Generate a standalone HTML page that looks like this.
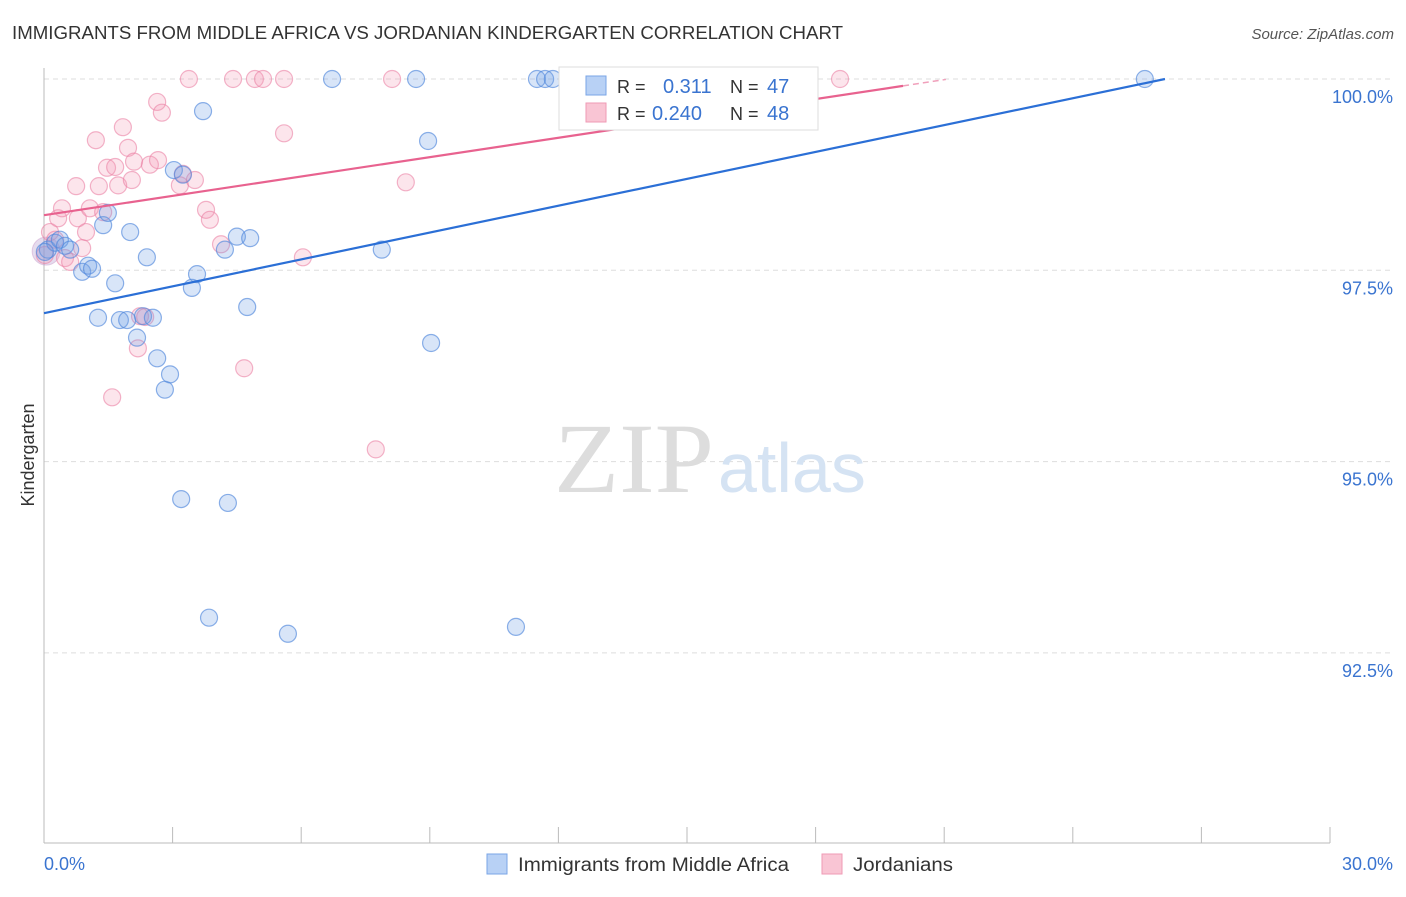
<!DOCTYPE html>
<html><head><meta charset="utf-8"><style>
body{margin:0;background:#fff;font-family:"Liberation Sans",sans-serif;}
svg text{font-family:"Liberation Sans",sans-serif;}
</style></head><body>
<svg id="chart" width="1406" height="892">
<text x="12" y="39" font-size="18" fill="#333" textLength="831" lengthAdjust="spacingAndGlyphs">IMMIGRANTS FROM MIDDLE AFRICA VS JORDANIAN KINDERGARTEN CORRELATION CHART</text>
<text x="1394" y="39" font-size="15" fill="#555" font-style="italic" text-anchor="end">Source: ZipAtlas.com</text>
<text x="34" y="455" font-size="18" fill="#333" transform="rotate(-90 34 455)" text-anchor="middle">Kindergarten</text>
<g id="grid"></g>
<line x1="44" y1="68" x2="44" y2="843" stroke="#bbb"/>
<line x1="44" y1="843" x2="1330" y2="843" stroke="#bbb"/>
<text x="554" y="492" font-size="100" fill="#ddd" style="font-family:'Liberation Serif',serif" textLength="160" lengthAdjust="spacingAndGlyphs">ZIP</text>
<text x="718" y="492" font-size="70" fill="#d5e3f3">atlas</text>
<g id="pts"></g>
<g id="lines"></g>
<g>
<rect x="559" y="67" width="259" height="63" fill="#fff" stroke="#ddd"/>
<rect x="586" y="76" width="20" height="19" fill="#b8d1f5" stroke="#7aa5e6"/>
<rect x="586" y="103" width="20" height="19" fill="#f9c5d4" stroke="#ef9ab5"/>
<text x="617" y="93" font-size="18" fill="#333">R = </text><text x="663" y="93" font-size="20" fill="#3a74d0">0.311</text>
<text x="730" y="93" font-size="18" fill="#333">N = </text><text x="767" y="93" font-size="20" fill="#3a74d0">47</text>
<text x="617" y="120" font-size="18" fill="#333">R = </text><text x="652" y="120" font-size="20" fill="#3a74d0">0.240</text>
<text x="730" y="120" font-size="18" fill="#333">N = </text><text x="767" y="120" font-size="20" fill="#3a74d0">48</text>
</g>
<rect x="487" y="854" width="20" height="20" fill="#b8d1f5" stroke="#7aa5e6"/>
<text x="518" y="871" font-size="19" fill="#333" textLength="271" lengthAdjust="spacingAndGlyphs">Immigrants from Middle Africa</text>
<rect x="822" y="854" width="20" height="20" fill="#f9c5d4" stroke="#ef9ab5"/>
<text x="853" y="871" font-size="19" fill="#333" textLength="100" lengthAdjust="spacingAndGlyphs">Jordanians</text>
</svg>
<script>
const yTicks=[100,97.5,95,92.5];
const yTickLabels=["100.0%","97.5%","95.0%","92.5%"];
const xTickLabels=["0.0%","30.0%"];
const blueX=[0.09,0.26,0.37,0.49,0.61,0.89,1.03,1.12,1.26,1.38,1.49,1.66,1.77,1.94,2.01,2.17,2.31,2.40,2.54,2.64,2.82,2.94,3.03,3.20,3.24,3.45,3.57,3.71,3.85,4.22,4.29,4.50,4.74,4.81,5.69,6.72,7.88,8.68,8.96,9.03,11.01,11.50,11.69,11.87,14.56,25.68,0.02];
const blueY=[97.77,97.86,97.90,97.82,97.77,97.48,97.56,97.52,96.88,98.09,98.25,97.33,96.85,96.85,98.00,96.62,96.90,97.67,96.88,96.35,95.94,96.14,98.81,94.51,98.75,97.27,97.45,99.58,92.96,97.77,94.46,97.94,97.02,97.92,92.75,100,97.77,100,99.19,96.55,92.84,100,100,100,100,100,97.74];
const pinkX=[0.02,0.14,0.26,0.33,0.42,0.49,0.61,0.75,0.79,0.89,0.98,1.07,1.21,1.28,1.38,1.47,1.59,1.66,1.73,1.84,1.96,2.05,2.10,2.19,2.24,2.36,2.47,2.64,2.66,2.75,3.17,3.24,3.38,3.52,3.78,3.87,4.13,4.41,4.67,4.92,5.11,5.60,5.60,6.04,7.74,8.12,8.44,18.57];
const pinkY=[97.70,98.00,97.90,98.18,98.31,97.66,97.61,98.60,98.18,97.79,98.00,98.31,99.20,98.60,98.26,98.84,95.84,98.85,98.61,99.37,99.10,98.68,98.92,96.48,96.90,96.89,98.88,99.70,98.94,99.56,98.61,98.76,100,98.68,98.29,98.16,97.84,100,96.22,100,100,100,99.29,97.67,95.16,100,98.65,100];
const blueTrend=[[0,96.94],[26.15,100]];
const pinkTrend=[[0,98.22],[20.04,99.91]];
const X=v=>44+v/30*1286, Y=v=>79+(100-v)/2.5*191.3;
const NS="http://www.w3.org/2000/svg";
function mk(tag,attrs,parent){const e=document.createElementNS(NS,tag);for(const k in attrs)e.setAttribute(k,attrs[k]);parent.appendChild(e);return e;}
const grid=document.getElementById('grid');
yTicks.forEach((t,i)=>{
 const l=mk('line',{x1:44,x2:1394,y1:Y(t),y2:Y(t),stroke:'#ddd','stroke-dasharray':'5,4'},grid);
 
 
 const tx=mk('text',{x:1393,y:Y(t)+24,'font-size':18,fill:'#3a74d0','text-anchor':'end'},grid);
 tx.textContent=yTickLabels[i];
 
 
});
for(let i=0;i<=10;i++){
 const l=mk('line',{x1:X(i*3),x2:X(i*3),y1:827,y2:843,stroke:'#bbb'},grid);
 
 
}
[[0,44,'start'],[1,1393,'end']].forEach(([i,x,a])=>{
 const tx=mk('text',{x:x,y:870,'font-size':18,fill:'#3a74d0','text-anchor':a},grid);
 tx.textContent=xTickLabels[i];
 
 
});
const pts=document.getElementById('pts');
const big=mk('circle',{cx:X(0.05),cy:Y(97.75),r:14,fill:'rgba(170,140,200,0.3)',stroke:'rgba(200,150,200,0.45)'},pts);


pinkX.forEach((x,i)=>{
 const c=mk('circle',{cx:X(x),cy:Y(pinkY[i]),r:8.5,fill:'rgba(245,150,180,0.25)',stroke:'rgba(235,130,165,0.6)','stroke-width':1.2},pts);
 
 
});
blueX.forEach((x,i)=>{
 const c=mk('circle',{cx:X(x),cy:Y(blueY[i]),r:8.5,fill:'rgba(110,160,230,0.27)',stroke:'rgba(80,135,220,0.65)','stroke-width':1.2},pts);
 
 
});
const ln=document.getElementById('lines');
const bl=mk('line',{x1:X(blueTrend[0][0]),y1:Y(blueTrend[0][1]),x2:X(blueTrend[1][0]),y2:Y(blueTrend[1][1]),stroke:'#2b6fd6','stroke-width':2.2},ln);


const pl=mk('line',{x1:X(pinkTrend[0][0]),y1:Y(pinkTrend[0][1]),x2:X(pinkTrend[1][0]),y2:Y(pinkTrend[1][1]),stroke:'#e8628f','stroke-width':2.2},ln);


const slope=(pinkTrend[1][1]-pinkTrend[0][1])/(pinkTrend[1][0]-pinkTrend[0][0]);
const ex=pinkTrend[1][0]+1;
const pd=mk('line',{x1:X(pinkTrend[1][0]),y1:Y(pinkTrend[1][1]),x2:X(ex),y2:Y(pinkTrend[1][1]+slope),stroke:'#f0a0bb','stroke-width':1.5,'stroke-dasharray':'6,4'},ln);


</script>
</body></html>
